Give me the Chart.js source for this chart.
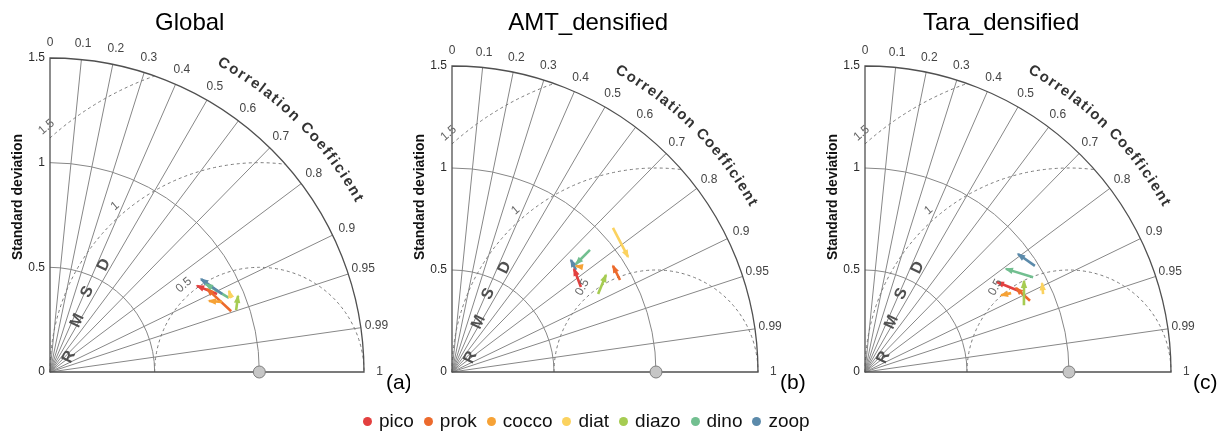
<!DOCTYPE html>
<html>
<head>
<meta charset="utf-8">
<script src="https://cdn.jsdelivr.net/npm/chart.js@4.4.1/dist/chart.umd.min.js"></script>
<style>
  html, body { margin: 0; padding: 0; background: #fff; width: 1229px; height: 436px; overflow: hidden;
    font-family: "Liberation Sans", Arial, Helvetica, sans-serif; }
  canvas.panel { position: absolute; top: 0; }
  #legend { position: absolute; left: 363px; top: 410px; display: flex; align-items: center;
    font-size: 19px; color: #111; white-space: nowrap; }
  #legend .item { display: flex; align-items: center; margin-right: 10px; }
  #legend .dot { width: 9px; height: 9px; border-radius: 50%; margin-right: 7px; }
</style>
</head>
<body>
<canvas id="c0" class="panel"></canvas>
<canvas id="c1" class="panel"></canvas>
<canvas id="c2" class="panel"></canvas>
<div id="legend"></div>
<script>
// Plankton groups and their colours
const groups = ['pico', 'prok', 'cocco', 'diat', 'diazo', 'dino', 'zoop'];
const groupColors = ['#e3403f', '#ec6a2c', '#f6a236', '#fbd25f', '#a6cc52', '#72bf90', '#5b8aaa'];

// Panel titles and tags
const panelTitles = ['Global', 'AMT_densified', 'Tara_densified'];
const panelTags = ['(a)', '(b)', '(c)'];

// Taylor diagram axes
const corrTicks = [0, 0.1, 0.2, 0.3, 0.4, 0.5, 0.6, 0.7, 0.8, 0.9, 0.95, 0.99, 1];
const corrTickLabels = ['0', '0.1', '0.2', '0.3', '0.4', '0.5', '0.6', '0.7', '0.8', '0.9', '0.95', '0.99', '1'];
const stdTicks = [0, 0.5, 1, 1.5];
const stdTickLabels = ['0', '0.5', '1', '1.5'];
const rmsdLevels = [0.5, 1, 1.5];
const rmsdLabels = ['0.5', '1', '1.5'];
const refStd = 1;

// Normalised standard deviation and correlation, arrow tail (from) -> arrow head (to)
// order: pico, prok, cocco, diat, diazo, dino, zoop
const globalStdFrom  = [0.881, 0.913, 0.887, 0.935, 0.937, 0.925, 0.903];
const globalCorrFrom = [0.906, 0.948, 0.926, 0.926, 0.949, 0.924, 0.911];
const globalStdTo    = [0.814, 0.849, 0.832, 0.939, 0.969, 0.855, 0.847];
const globalCorrTo   = [0.863, 0.884, 0.913, 0.911, 0.927, 0.871, 0.852];

const amtStdFrom  = [0.757, 0.939, 0.819, 1.059, 0.812, 0.903, 0.787];
const amtCorrFrom = [0.835, 0.877, 0.778, 0.745, 0.882, 0.749, 0.772];
const amtStdTo    = [0.783, 0.945, 0.800, 1.031, 0.892, 0.806, 0.801];
const amtCorrTo   = [0.764, 0.835, 0.760, 0.837, 0.846, 0.754, 0.728];

const taraStdFrom  = [0.853, 0.881, 0.814, 0.953, 0.845, 0.946, 0.982];
const taraCorrFrom = [0.885, 0.918, 0.880, 0.916, 0.922, 0.871, 0.848];
const taraStdTo    = [0.783, 0.847, 0.766, 0.971, 0.898, 0.856, 0.947];
const taraCorrTo   = [0.826, 0.874, 0.871, 0.894, 0.868, 0.807, 0.792];

const panelSeries = [
  [globalStdFrom, globalCorrFrom, globalStdTo, globalCorrTo],
  [amtStdFrom, amtCorrFrom, amtStdTo, amtCorrTo],
  [taraStdFrom, taraCorrFrom, taraStdTo, taraCorrTo]
];

// Canvas placement and plot origin / radius in pixels
const panelLayouts = [
  { left: 0,   width: 410, ox: 50,  oy: 372, r: 314 },
  { left: 410, width: 410, ox: 452, oy: 372, r: 306 },
  { left: 820, width: 409, ox: 865, oy: 372, r: 306 }
];

const FONT = '"Liberation Sans", Arial, Helvetica, sans-serif';
const toXY = (s, c) => ({ x: s * c, y: s * Math.sqrt(Math.max(0, 1 - c * c)) });

const taylorPlugin = {
  id: 'taylor',
  beforeDatasetsDraw(chart) {
    const { ctx, scales: { x, y } } = chart;
    const ox = x.getPixelForValue(0), oy = y.getPixelForValue(0);
    const u = x.getPixelForValue(1) - ox;
    const sMax = stdTicks[stdTicks.length - 1];
    const R = sMax * u;
    ctx.save();
    // correlation rays
    ctx.strokeStyle = '#878787';
    ctx.lineWidth = 1;
    corrTicks.forEach(c => {
      if (c <= 0 || c >= 1) return;
      const a = Math.acos(c);
      ctx.beginPath();
      ctx.moveTo(ox, oy);
      ctx.lineTo(ox + R * Math.cos(a), oy - R * Math.sin(a));
      ctx.stroke();
    });
    // standard deviation arcs
    stdTicks.forEach(s => {
      if (s <= 0 || s >= sMax) return;
      ctx.beginPath();
      ctx.arc(ox, oy, s * u, -Math.PI / 2, 0);
      ctx.stroke();
    });
    // centred RMS difference arcs around the reference
    ctx.setLineDash([3, 3]);
    ctx.strokeStyle = '#7a7a7a';
    const cx = x.getPixelForValue(refStd);
    rmsdLevels.forEach(rho => {
      const cosHi = (sMax * sMax - refStd * refStd - rho * rho) / (2 * refStd * rho);
      const phiMin = Math.acos(Math.min(1, cosHi));
      const phiMax = Math.acos(Math.max(-1, -refStd / rho));
      ctx.beginPath();
      ctx.arc(cx, oy, rho * u, -phiMax, -phiMin);
      ctx.stroke();
    });
    ctx.setLineDash([]);
    // frame
    ctx.strokeStyle = '#505050';
    ctx.lineWidth = 1.3;
    ctx.beginPath();
    ctx.moveTo(ox + R, oy);
    ctx.arc(ox, oy, R, 0, -Math.PI / 2, true);
    ctx.lineTo(ox, oy);
    ctx.closePath();
    ctx.stroke();
    ctx.restore();
  },
  afterDatasetsDraw(chart, args, opts) {
    const { ctx, scales: { x, y } } = chart;
    const ox = x.getPixelForValue(0), oy = y.getPixelForValue(0);
    const u = x.getPixelForValue(1) - ox;
    const sMax = stdTicks[stdTicks.length - 1];
    const R = sMax * u;
    ctx.save();

    // arrow heads
    chart.data.datasets.forEach((ds, i) => {
      const pts = chart.getDatasetMeta(i).data;
      const p0 = pts[0], p1 = pts[pts.length - 1];
      const ang = Math.atan2(p1.y - p0.y, p1.x - p0.x);
      const L = 7, W = 3.2;
      ctx.fillStyle = ds.borderColor;
      ctx.beginPath();
      ctx.moveTo(p1.x + Math.cos(ang) * 1.5, p1.y + Math.sin(ang) * 1.5);
      ctx.lineTo(p1.x - Math.cos(ang) * L - Math.sin(ang) * W, p1.y - Math.sin(ang) * L + Math.cos(ang) * W);
      ctx.lineTo(p1.x - Math.cos(ang) * L + Math.sin(ang) * W, p1.y - Math.sin(ang) * L - Math.cos(ang) * W);
      ctx.closePath();
      ctx.fill();
    });

    // reference point
    ctx.beginPath();
    ctx.arc(x.getPixelForValue(refStd), oy, 6, 0, Math.PI * 2);
    ctx.fillStyle = '#c6c6c6';
    ctx.fill();
    ctx.strokeStyle = '#7c7c7c';
    ctx.lineWidth = 1;
    ctx.stroke();

    // standard deviation tick labels
    ctx.fillStyle = '#2a2a2a';
    ctx.font = '12px ' + FONT;
    ctx.textAlign = 'right';
    ctx.textBaseline = 'middle';
    stdTicks.forEach((s, i) => ctx.fillText(stdTickLabels[i], ox - 5, oy - s * u));

    // correlation tick labels
    ctx.fillStyle = '#444';
    ctx.font = '12px ' + FONT;
    ctx.textAlign = 'center';
    corrTicks.forEach((c, i) => {
      const a = Math.acos(c);
      const rr = 1.575 * u;
      ctx.fillText(corrTickLabels[i], ox + rr * Math.cos(a), oy - rr * Math.sin(a));
    });

    // RMSD contour labels
    ctx.fillStyle = '#666';
    ctx.font = '12px ' + FONT;
    const cx = x.getPixelForValue(refStd);
    rmsdLevels.forEach((rho, i) => {
      const phi = 131 * Math.PI / 180;
      const d = (rho + 0.05) * u;
      ctx.save();
      ctx.translate(cx + d * Math.cos(phi), oy - d * Math.sin(phi));
      ctx.rotate(-(phi - Math.PI / 2) - (i === 0 ? opts.rmsdTilt : 0));
      ctx.fillText(rmsdLabels[i], 0, 0);
      ctx.restore();
    });

    // RMSD axis name
    ctx.fillStyle = '#505050';
    ctx.font = 'bold 16px ' + FONT;
    const letters = ['R', 'M', 'S', 'D'];
    const letterPos = [[0.091, 0.072], [0.13, 0.245], [0.178, 0.383], [0.258, 0.512]];
    letters.forEach((ch, i) => {
      ctx.save();
      ctx.translate(ox + letterPos[i][0] * u, oy - letterPos[i][1] * u);
      ctx.rotate(-65 * Math.PI / 180);
      ctx.fillText(ch, 0, 0);
      ctx.restore();
    });

    // curved correlation axis name
    const name = 'Correlation Coefficient';
    ctx.fillStyle = '#333';
    ctx.font = 'bold 15px ' + FONT;
    const chars = [...name];
    const widths = chars.map(ch => ctx.measureText(ch).width);
    const total = widths.reduce((a, b) => a + b, 0);
    const rr = 1.69 * u;
    const aStart = 61.5 * Math.PI / 180, aEnd = 29 * Math.PI / 180;
    const gap = (rr * (aStart - aEnd) - total) / (chars.length - 1);
    let sPos = 0;
    chars.forEach((ch, i) => {
      const a = aStart - (sPos + widths[i] / 2) / rr;
      sPos += widths[i] + gap;
      ctx.save();
      ctx.translate(ox + rr * Math.cos(a), oy - rr * Math.sin(a));
      ctx.rotate(Math.PI / 2 - a);
      ctx.fillText(ch, 0, 0);
      ctx.restore();
    });

    // vertical axis title
    ctx.save();
    ctx.fillStyle = '#111';
    ctx.font = 'bold 14px ' + FONT;
    ctx.translate(ox - 32, 197);
    ctx.rotate(-Math.PI / 2);
    ctx.fillText('Standard deviation', 0, 0);
    ctx.restore();

    // panel title
    ctx.fillStyle = '#000';
    ctx.font = '24px ' + FONT;
    ctx.fillText(opts.title, ox + 0.445 * R, 23);

    // panel tag
    ctx.font = '21px ' + FONT;
    ctx.textAlign = 'left';
    ctx.fillText(opts.tag, ox + R + 22, oy + 11);

    ctx.restore();
  }
};

panelLayouts.forEach((lay, p) => {
  const cv = document.getElementById('c' + p);
  cv.width = lay.width;
  cv.height = 436;
  cv.style.left = lay.left + 'px';
  cv.style.width = lay.width + 'px';
  cv.style.height = '436px';
  const [sFrom, cFrom, sTo, cTo] = panelSeries[p];
  const datasets = groups.map((g, i) => ({
    label: g,
    data: [toXY(sFrom[i], cFrom[i]), toXY(sTo[i], cTo[i])],
    showLine: true,
    borderColor: groupColors[i],
    backgroundColor: groupColors[i],
    borderWidth: 2.6,
    pointRadius: 0,
    clip: false
  })).reverse();
  const sMax = stdTicks[stdTicks.length - 1];
  new Chart(cv, {
    type: 'scatter',
    data: { datasets },
    options: {
      responsive: false,
      devicePixelRatio: 1,
      animation: false,
      events: [],
      layout: {
        padding: {
          left: lay.ox - lay.left,
          right: lay.width - (lay.ox - lay.left) - lay.r,
          top: lay.oy - lay.r,
          bottom: 436 - lay.oy
        }
      },
      scales: {
        x: { type: 'linear', min: 0, max: sMax, display: false },
        y: { type: 'linear', min: 0, max: sMax, display: false }
      },
      plugins: {
        legend: { display: false },
        tooltip: { enabled: false },
        taylor: { title: panelTitles[p], tag: panelTags[p], rmsdTilt: p === 0 ? 0 : 0.35 }
      }
    },
    plugins: [taylorPlugin]
  });
});

// shared legend
const legend = document.getElementById('legend');
groups.forEach((g, i) => {
  const item = document.createElement('div');
  item.className = 'item';
  const dot = document.createElement('span');
  dot.className = 'dot';
  dot.style.background = groupColors[i];
  const txt = document.createElement('span');
  txt.textContent = g;
  item.appendChild(dot);
  item.appendChild(txt);
  legend.appendChild(item);
});
</script>
</body>
</html>
